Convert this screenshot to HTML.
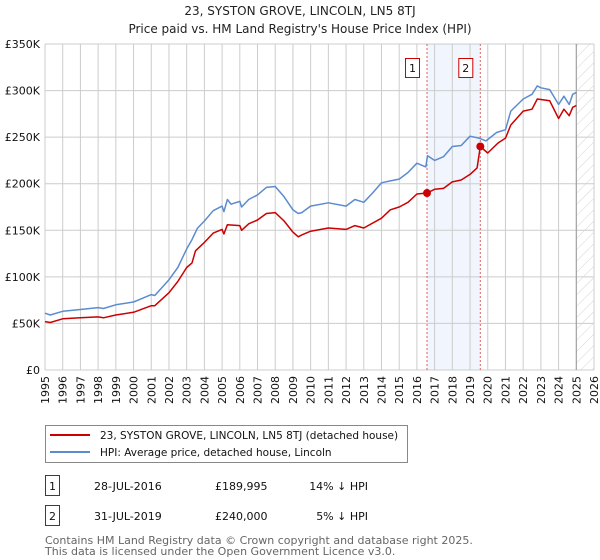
<!DOCTYPE html>
<html><head><meta charset="utf-8"><style>
body{margin:0;background:#fff;font-family:"DejaVu Sans","Liberation Sans",sans-serif;}
svg{display:block}
</style></head><body>
<svg id="c" width="600" height="560" xmlns="http://www.w3.org/2000/svg" font-family="DejaVu Sans, Liberation Sans, sans-serif">
<text x="300" y="15" text-anchor="middle" font-size="12" fill="#222">23, SYSTON GROVE, LINCOLN, LN5 8TJ</text>
<text x="300" y="33" text-anchor="middle" font-size="12" fill="#222">Price paid vs. HM Land Registry's House Price Index (HPI)</text>
<g id="grid"></g>
<g id="marks"></g>
<g id="axes"></g>
<g>
<rect x="45.5" y="425.5" width="362" height="37" fill="#fff" stroke="#888"/>
<line x1="50" y1="435" x2="90" y2="435" stroke="#cc0000" stroke-width="2"/>
<text x="100" y="439" font-size="10.5" fill="#111">23, SYSTON GROVE, LINCOLN, LN5 8TJ (detached house)</text>
<line x1="50" y1="452" x2="90" y2="452" stroke="#5b8ccf" stroke-width="2"/>
<text x="100" y="456" font-size="10.5" fill="#111">HPI: Average price, detached house, Lincoln</text>
</g>
<g font-size="11" fill="#111">
<rect x="45.5" y="475.5" width="14" height="20" fill="#fff" stroke="#cc0000"/>
<text x="52.5" y="490" text-anchor="middle">1</text>
<text x="94" y="490">28-JUL-2016</text>
<text x="215" y="490">£189,995</text>
<text x="368" y="490" text-anchor="end">14% ↓ HPI</text>
<rect x="45.5" y="505.5" width="14" height="20" fill="#fff" stroke="#cc0000"/>
<text x="52.5" y="520" text-anchor="middle">2</text>
<text x="94" y="520">31-JUL-2019</text>
<text x="215" y="520">£240,000</text>
<text x="368" y="520" text-anchor="end">5% ↓ HPI</text>
</g>
<text x="45" y="544" font-size="11" fill="#666">Contains HM Land Registry data © Crown copyright and database right 2025.</text>
<text x="45" y="555" font-size="11" fill="#666">This data is licensed under the Open Government Licence v3.0.</text>
</svg>
<script>
const yTicks=[0,50,100,150,200,250,300,350];
const yTickLabels=["£0","£50K","£100K","£150K","£200K","£250K","£300K","£350K"];
const years=[1995,1996,1997,1998,1999,2000,2001,2002,2003,2004,2005,2006,2007,2008,2009,2010,2011,2012,2013,2014,2015,2016,2017,2018,2019,2020,2021,2022,2023,2024,2025,2026];
const hpiT=[1995,1995.3,1996,1997,1998,1998.3,1999,2000,2000.5,2001,2001.2,2002,2002.5,2003,2003.3,2003.6,2004,2004.5,2005,2005.1,2005.3,2005.5,2006,2006.1,2006.5,2007,2007.5,2008,2008.5,2009,2009.3,2009.5,2010,2011,2012,2012.5,2013,2013.5,2014,2014.5,2015,2015.5,2016,2016.5,2016.6,2017,2017.5,2018,2018.5,2019,2019.5,2019.9,2020.5,2021,2021.3,2022,2022.5,2022.8,2023,2023.5,2024,2024.3,2024.6,2024.8,2025];
const hpiV=[61,59,63,65,67,66,70,73,77,81,80,97,110,130,140,152,160,171,176,170,183,178,181,175,183,188,196,197,186,172,168,169,176,179.5,176,183,180,190,201,203,205,212,222,218,230,225,229,240,241,251,249,246,255,258,278,291,296,305,303,301,285,294,285,296,298];
const ppT=[1995,1995.3,1996,1997,1998,1998.3,1999,2000,2001,2001.2,2002,2002.5,2003,2003.3,2003.5,2004,2004.5,2005,2005.1,2005.3,2006,2006.1,2006.5,2007,2007.5,2008,2008.5,2009,2009.3,2009.5,2010,2011,2012,2012.5,2013,2014,2014.5,2015,2015.5,2016,2016.57,2017,2017.5,2018,2018.5,2019,2019.4,2019.58,2020,2020.6,2021,2021.3,2022,2022.5,2022.8,2023.5,2024,2024.3,2024.6,2024.8,2025];
const ppV=[52,51,55,56,57,56,59,62,69,69,83,95,110,115,128,137,147,151,146,156,155,150,157,161,168,169,160,148,143,145,149,152.5,151,155,152.5,163,172,175,180,189,190,194,195,202,204,210,217,240,233,244,249,263,278,280,291,289,270,280,273,282,284];
const saleT=[2016.57,2019.58];
const saleV=[189.995,240];
const saleLabels=["1","2"];

const L=45,R=594,T=44,B=370;
const X=t=>L+(t-1995)*(R-L)/31;
const Y=v=>B-v*(B-T)/350;
const NS="http://www.w3.org/2000/svg";
function mk(tag,attrs,parent){const e=document.createElementNS(NS,tag);for(const k in attrs)e.setAttribute(k,attrs[k]);parent.appendChild(e);return e;}
const grid=document.getElementById('grid'),marks=document.getElementById('marks'),axes=document.getElementById('axes');
let sh=mk('rect',{x:X(saleT[0]),y:T,width:X(saleT[1])-X(saleT[0]),height:B-T,fill:'#eef3fc',opacity:0.8},grid);


years.forEach(y=>{let l=mk('line',{x1:X(y),x2:X(y),y1:T,y2:B,stroke:'#ccc','stroke-width':1},grid);


let t=mk('text',{x:0,y:0,'font-size':11,fill:'#111','text-anchor':'end',transform:`translate(${X(y)+4},${B+6}) rotate(-90)`},axes);t.textContent=y;

});
yTicks.forEach((v,i)=>{let l=mk('line',{x1:L,x2:R,y1:Y(v),y2:Y(v),stroke:'#ccc','stroke-width':1},grid);


let t=mk('text',{x:L-5,y:Y(v)+4,'font-size':11,fill:'#111','text-anchor':'end'},axes);t.textContent=yTickLabels[i];

});
const defs=mk('defs',{},grid);
const pat=mk('pattern',{id:'h',width:8,height:8,patternUnits:'userSpaceOnUse',patternTransform:'rotate(45)'},defs);
mk('line',{x1:0,y1:0,x2:0,y2:8,stroke:'#d4d4d4','stroke-width':1},pat);
let hr=mk('rect',{x:X(2025),y:T,width:R-X(2025),height:B-T,fill:'url(#h)'},grid);


let vl=mk('line',{x1:X(2025),x2:X(2025),y1:T,y2:B,stroke:'#999','stroke-width':1},grid);


saleT.forEach((t,i)=>{let l=mk('line',{x1:X(t),x2:X(t),y1:T,y2:B,stroke:'#e06060','stroke-width':1,'stroke-dasharray':'2,2'},marks);


let r=mk('rect',{x:X(t)-21.5,y:58.5,width:14,height:19,fill:'#fff',stroke:'#cc0000'},marks);


let tx=mk('text',{x:X(t)-14.5,y:72,'font-size':11,'text-anchor':'middle',fill:'#111'},marks);tx.textContent=saleLabels[i];

});
function path(ts,vs,col,name){let d=ts.map((t,i)=>(i?'L':'M')+X(t).toFixed(1)+','+Y(vs[i]).toFixed(1)).join('');
let p=mk('path',{d:d,fill:'none',stroke:col,'stroke-width':1.5,'stroke-linejoin':'round'},marks);

}
path(hpiT,hpiV,'#5b8ccf','hpi-line');
path(ppT,ppV,'#cc0000','price-paid-line');
saleT.forEach((t,i)=>{let c=mk('circle',{cx:X(t),cy:Y(saleV[i]),r:4,fill:'#cc0000'},marks);

});
</script>
</body></html>
